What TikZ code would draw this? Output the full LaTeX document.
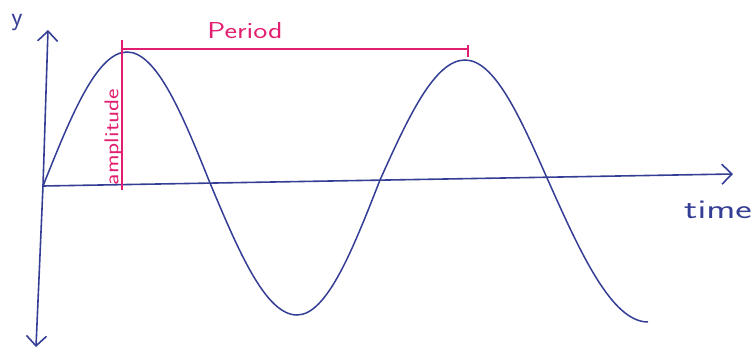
\documentclass[tikz,border=0pt]{standalone}
\usetikzlibrary{arrows.meta}
\definecolor{penblue}{RGB}{52,62,148}
\definecolor{penpink}{RGB}{226,30,112}
\tikzset{
  axisline/.style={penblue, line width=1.6pt, -{Straight Barb[length=10pt,width=20pt,line width=1.6pt]}},
  wave/.style={penblue, line width=1.5pt},
  measure/.style={penpink, line width=1.7pt},
  bluelabel/.style={penblue, inner sep=0pt},
  pinklabel/.style={penpink, inner sep=0pt},
}
\begin{document}
\begin{tikzpicture}[x=1pt,y=-1pt]
\useasboundingbox (0,0) rectangle (756,350);
% axes
\coordinate (O) at (43,186);
\coordinate (ytop) at (48,30);
\coordinate (ybot) at (36,347);
\coordinate (xend) at (733,174);
\draw[axisline] (O) -- (ytop);
\draw[axisline] (O) -- (ybot);
\draw[axisline] (O) -- (xend);
\node[bluelabel, anchor=base, font=\sffamily\fontsize{26}{26}\selectfont] (ylab) at (17,26) {y};
\node[bluelabel, anchor=base, font=\sffamily\fontsize{27}{27}\selectfont] (tlab) at (718,219) {\scalebox{1.45}[1]{time}};
% wave
\coordinate (P1) at (127,52);
\coordinate (Z1) at (210,183);
\coordinate (T1) at (297,315);
\coordinate (Z2) at (380,180);
\coordinate (P2) at (465,60);
\coordinate (Z3) at (547,178);
\coordinate (E) at (648,322);
\draw[wave] (O) sin (P1) cos (Z1) sin (T1) cos (Z2) sin (P2) cos (Z3) sin (E);
% amplitude
\coordinate (atop) at (122,40);
\coordinate (abot) at (122,190);
\draw[measure] (atop) -- (abot);
\node[pinklabel, rotate=90, font=\sffamily\fontsize{20}{20}\selectfont] (alab) at (113.5,137) {\scalebox{1.25}[1]{amplitude}};
% period
\coordinate (pl) at (122,49);
\coordinate (pr) at (468,49);
\coordinate (prt) at (468,45);
\coordinate (prb) at (468,57);
\draw[measure] (pl) -- (pr);
\draw[measure] (prt) -- (prb);
\node[pinklabel, font=\sffamily\fontsize{23}{23}\selectfont] (plab) at (245,31) {\scalebox{1.3}[1]{Period}};
\end{tikzpicture}
\end{document}
